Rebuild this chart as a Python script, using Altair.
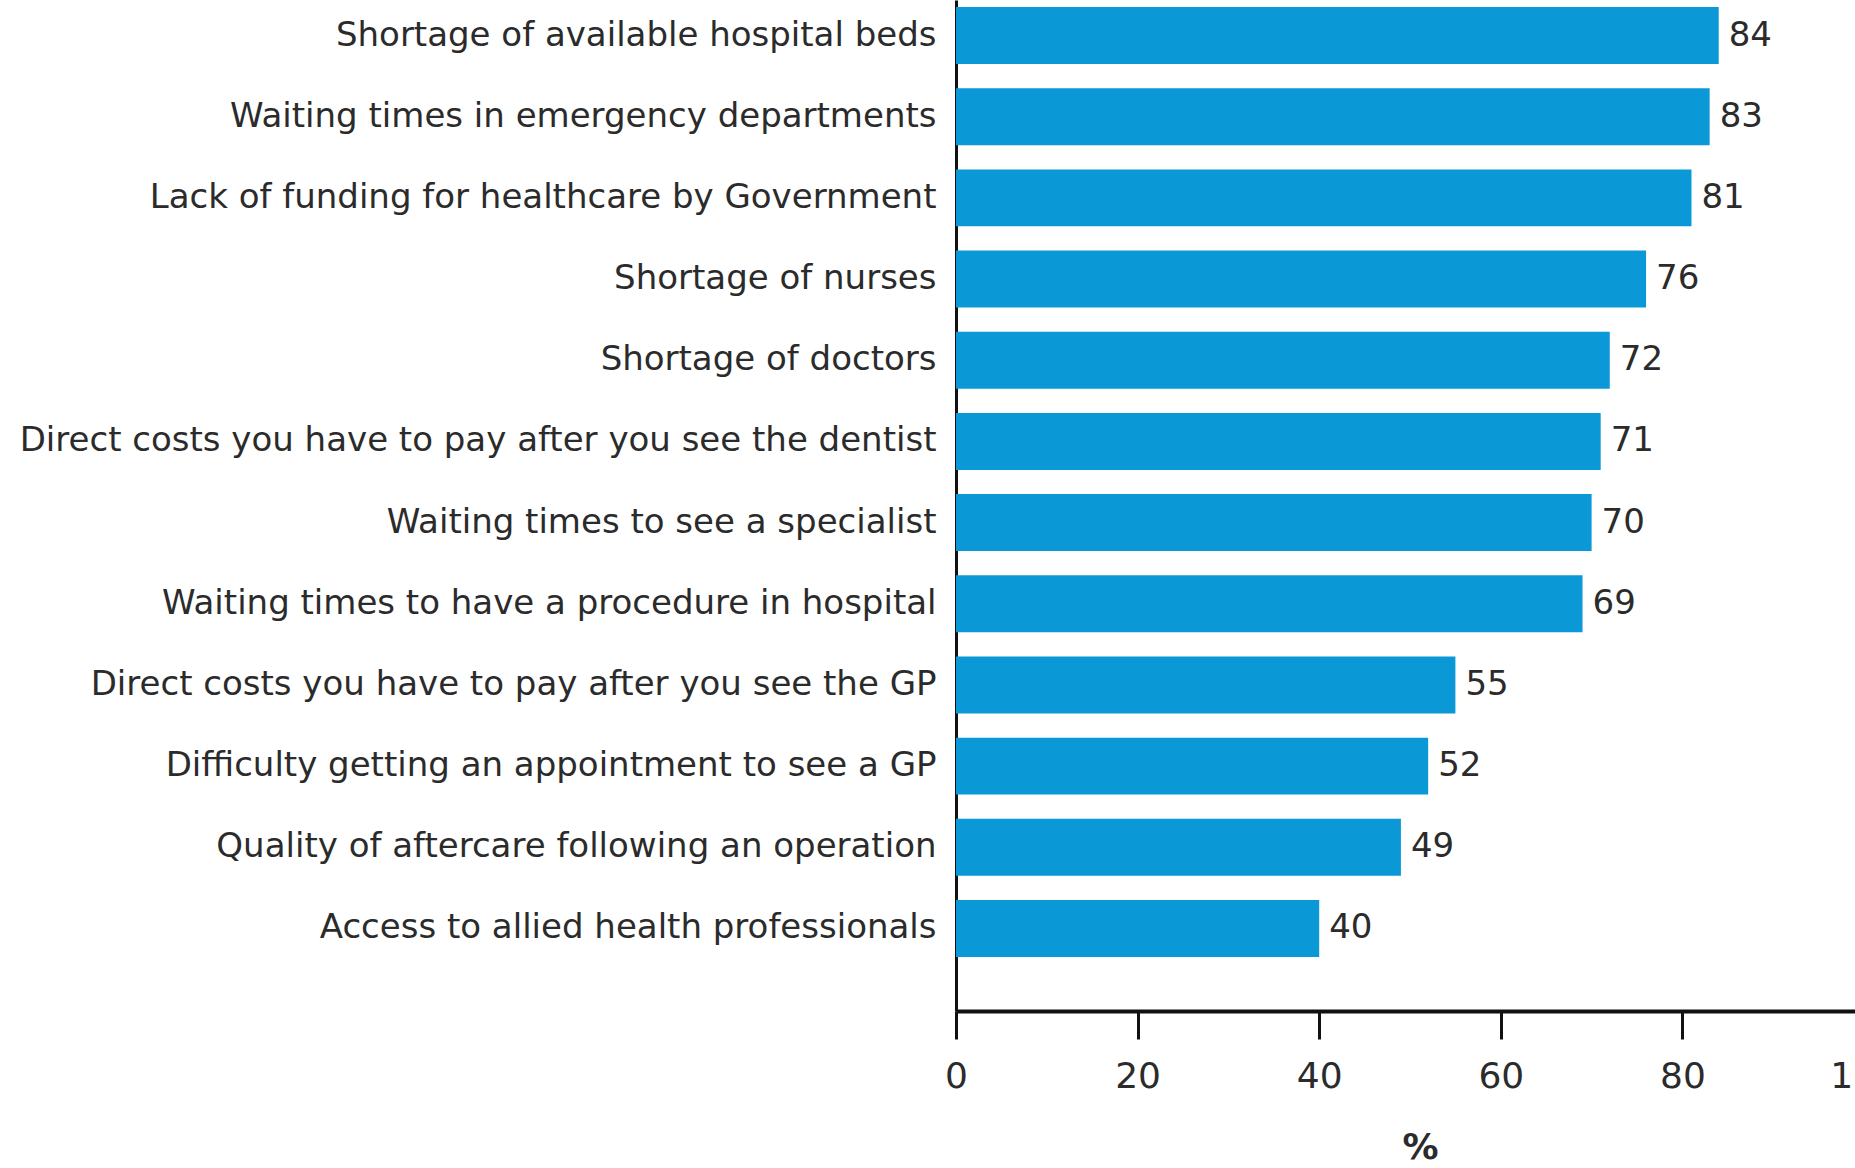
import altair as alt
import pandas as pd

categories = [
    "Shortage of available hospital beds",
    "Waiting times in emergency departments",
    "Lack of funding for healthcare by Government",
    "Shortage of nurses",
    "Shortage of doctors",
    "Direct costs you have to pay after you see the dentist",
    "Waiting times to see a specialist",
    "Waiting times to have a procedure in hospital",
    "Direct costs you have to pay after you see the GP",
    "Difficulty getting an appointment to see a GP",
    "Quality of aftercare following an operation",
    "Access to allied health professionals",
]
values = [84, 83, 81, 76, 72, 71, 70, 69, 55, 52, 49, 40]
x_ticks = [0, 20, 40, 60, 80, 100]

df = pd.DataFrame({"issue": categories, "pct": values})

FONT = "DejaVu Sans"
BLUE = "#0a98d6"
TEXT = "#2b2b2b"

y_enc = alt.Y(
    "issue:N",
    sort=None,
    scale=alt.Scale(paddingInner=0.298, paddingOuter=0.376, align=0.115),
    axis=alt.Axis(
        title=None,
        ticks=False,
        domain=True,
        domainColor="#111111",
        domainWidth=3,
        labelFont=FONT,
        labelFontSize=34,
        labelColor=TEXT,
        labelPadding=20,
        labelLimit=2000,
    ),
)

x_enc = alt.X(
    "pct:Q",
    scale=alt.Scale(domain=[0, 100], range=[0, 908], nice=False, zero=True),
    axis=alt.Axis(
        title="%",
        values=x_ticks,
        grid=False,
        domainColor="#111111",
        domainWidth=4,
        tickColor="#111111",
        tickWidth=3,
        tickSize=28,
        labelFont=FONT,
        labelFontSize=36,
        labelColor=TEXT,
        labelPadding=20,
        labelFlush=False,
        labelOverlap=False,
        titleFont=FONT,
        titleFontSize=36,
        titleFontWeight="bold",
        titleColor=TEXT,
        titlePadding=36,
        titleX=464,
    ),
)

bars = alt.Chart(df).mark_bar(color=BLUE).encode(y=y_enc, x=x_enc)

labels = alt.Chart(df).mark_text(
    align="left", baseline="middle", dx=10, font=FONT, fontSize=34, color=TEXT
).encode(y=alt.Y("issue:N", sort=None), x=alt.X("pct:Q"), text=alt.Text("pct:Q"))

chart = (
    alt.layer(bars, labels)
    .properties(
        width=899,
        height=1011,
        padding={"left": 956, "top": 0, "right": 0, "bottom": 157},
        autosize=alt.AutoSizeParams(type="none"),
        background="white",
    )
    .configure_view(stroke=None)
)

chart.save("out.html", embed_options={"renderer": "svg", "actions": False})
